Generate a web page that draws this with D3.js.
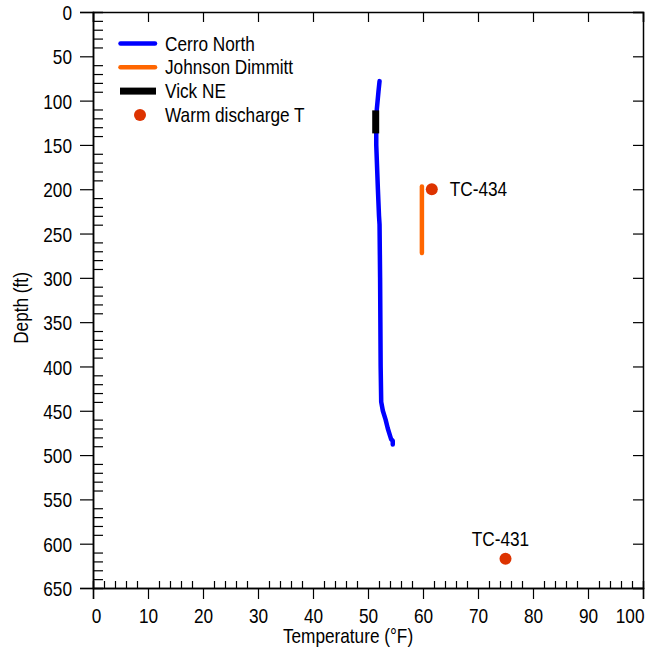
<!DOCTYPE html>
<html>
<head>
<meta charset="utf-8">
<script src="https://cdn.jsdelivr.net/npm/d3@7"></script>
<style>
  body { margin: 0; background: #fff; }
  svg { display: block; font-family: "Liberation Sans", Arial, sans-serif; }
</style>
</head>
<body>
<div id="chart"></div>
<script>
// Cerro North profile: [temperature °F, depth ft]
const cerroNorth = [
  [52.1, 78], [51.9, 90], [51.6, 110], [51.5, 130], [51.5, 150],
  [51.8, 200], [52.0, 230], [52.1, 240], [52.2, 300], [52.3, 400],
  [52.4, 440], [52.7, 450], [53.2, 460], [53.6, 470], [54.0, 478],
  [54.2, 482], [54.5, 484], [54.5, 488]
];
const johnsonDimmitt = [[59.8, 197], [59.8, 272]];
const vickNE = [[51.4, 111], [51.4, 137]];
const warmDischarge = [
  { name: "TC-434", temp: 61.6, depth: 200 },
  { name: "TC-431", temp: 75.0, depth: 617 }
];
const legendItems = [
  { label: "Cerro North", kind: "line", color: "#0000ff" },
  { label: "Johnson Dimmitt", kind: "line", color: "#ff6600" },
  { label: "Vick NE", kind: "bar", color: "#000" },
  { label: "Warm discharge T", kind: "dot", color: "#dd3300" }
];
const xTicks = d3.range(0, 101, 10);
const yTicks = d3.range(0, 651, 50);

const width = 653, height = 652;
const margin = { top: 12, right: 10, bottom: 64, left: 93 };

// the reference uses a narrow sans; squeeze Liberation Sans horizontally
const fontSize = 21;
const squeeze = 0.82;

const svg = d3.select("#chart").append("svg")
  .attr("width", width).attr("height", height);

const x = d3.scaleLinear().domain([0, 100]).range([margin.left, width - margin.right]);
const y = d3.scaleLinear().domain([0, 650]).range([margin.top, height - margin.bottom]);

function addText(px, py, str, anchor = "start", rotate = 0) {
  return svg.append("text")
    .attr("transform", `translate(${px},${py}) rotate(${rotate}) scale(${squeeze},1)`)
    .attr("text-anchor", anchor)
    .attr("font-size", fontSize)
    .text(str);
}

// axes
svg.append("g")
  .attr("transform", `translate(0,${y(650)})`)
  .call(d3.axisBottom(x).tickValues(xTicks).tickSize(11).tickPadding(9))
  .call(g => g.selectAll(".tick text")
    .attr("font-size", fontSize).attr("font-family", null)
    .attr("transform", `scale(${squeeze},1)`)
    .attr("text-anchor", d => d === 100 ? "end" : "middle")
    .attr("x", d => d === 0 ? 3 / squeeze : d === 100 ? 1 / squeeze : 0));
svg.append("g")
  .attr("transform", `translate(0,${y(650)})`)
  .call(d3.axisBottom(x).tickValues(d3.range(0, 101, 2).filter(d => d % 10)).tickSize(-7).tickFormat(""));
svg.append("g")
  .attr("transform", `translate(0,${y(0)})`)
  .call(d3.axisTop(x).tickValues(xTicks).tickSize(-10).tickFormat(""));

svg.append("g")
  .attr("transform", `translate(${x(0)},0)`)
  .call(d3.axisLeft(y).tickValues(yTicks).tickSize(13).tickPadding(8))
  .call(g => g.selectAll(".tick text")
    .attr("font-size", fontSize).attr("font-family", null)
    .attr("dy", "0.36em")
    .attr("transform", `scale(${squeeze},1)`)
    .attr("x", -21 / squeeze));
svg.append("g")
  .attr("transform", `translate(${x(0)},0)`)
  .call(d3.axisLeft(y).tickValues(d3.range(0, 651, 10).filter(d => d % 50)).tickSize(-10).tickFormat(""));
svg.append("g")
  .attr("transform", `translate(${x(100)},0)`)
  .call(d3.axisRight(y).tickValues(yTicks).tickSize(-10).tickFormat(""));

svg.selectAll(".domain").attr("stroke", "#000").attr("stroke-width", 1.5);
svg.selectAll(".tick line").attr("stroke", "#000").attr("stroke-width", 1.2);

// axis titles
addText(348, 643, "Temperature (°F)", "middle");
addText(28, 308, "Depth (ft)", "middle", -90);

// series
const line = d3.line().x(d => x(d[0])).y(d => y(d[1]));

svg.append("path")
  .datum(cerroNorth)
  .attr("d", line)
  .attr("fill", "none").attr("stroke", "#0000ff")
  .attr("stroke-width", 4.5).attr("stroke-linecap", "round").attr("stroke-linejoin", "round");

svg.append("path")
  .datum(johnsonDimmitt)
  .attr("d", line)
  .attr("fill", "none").attr("stroke", "#ff6600")
  .attr("stroke-width", 4.5).attr("stroke-linecap", "round");

svg.append("path")
  .datum(vickNE)
  .attr("d", line)
  .attr("fill", "none").attr("stroke", "#000")
  .attr("stroke-width", 7).attr("stroke-linecap", "butt");

svg.selectAll(".warm")
  .data(warmDischarge)
  .join("circle")
  .attr("cx", d => x(d.temp)).attr("cy", d => y(d.depth))
  .attr("r", 6).attr("fill", "#dd3300");

addText(x(warmDischarge[0].temp) + 18, y(warmDischarge[0].depth) + 7, warmDischarge[0].name);
addText(x(warmDischarge[1].temp) - 5, y(warmDischarge[1].depth) - 13, warmDischarge[1].name, "middle");

// legend
legendItems.forEach((item, i) => {
  const cy = 43.5 + i * 23.8;
  if (item.kind === "line") {
    svg.append("line")
      .attr("x1", 120.5).attr("x2", 155).attr("y1", cy).attr("y2", cy)
      .attr("stroke", item.color).attr("stroke-width", 4.5).attr("stroke-linecap", "round");
  } else if (item.kind === "bar") {
    svg.append("rect")
      .attr("x", 120).attr("y", cy - 3.5).attr("width", 36).attr("height", 7)
      .attr("fill", item.color);
  } else {
    svg.append("circle")
      .attr("cx", 140).attr("cy", cy).attr("r", 6).attr("fill", item.color);
  }
  addText(165, cy + 7, item.label);
});
</script>
</body>
</html>
